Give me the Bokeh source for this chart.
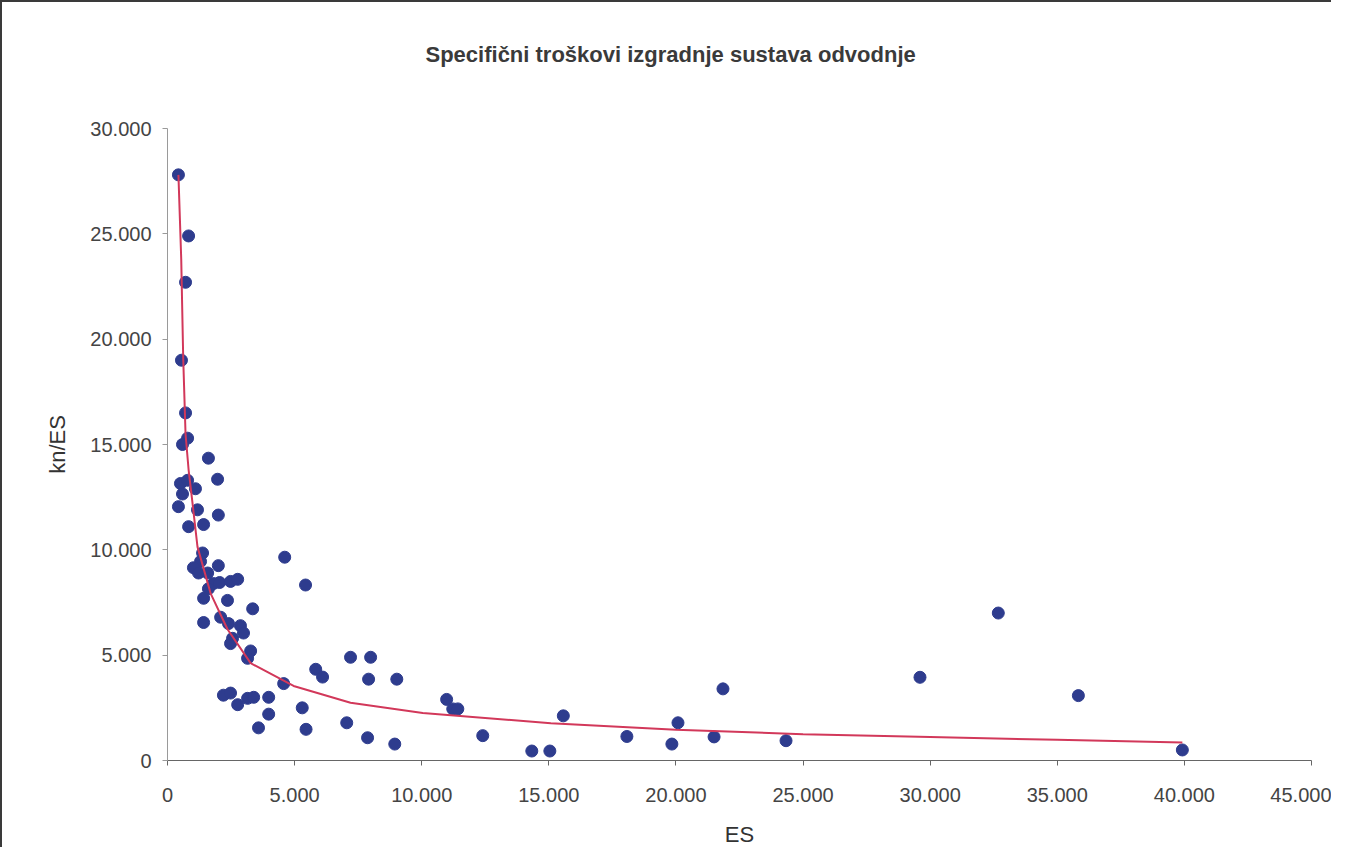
from bokeh.plotting import figure
from bokeh.models import FixedTicker, CustomJSTickFormatter, Range1d, ColumnDataSource, Title
from bokeh.embed import file_html
from bokeh.resources import INLINE

title_text = "Specifični troškovi izgradnje sustava odvodnje"
x_label = "ES"
y_label = "kn/ES"

es = [430, 830, 710, 550, 710, 790, 590, 1610, 1970, 510, 790, 1100, 590, 430, 1180,
      2000, 830, 1420, 1380, 1300, 1020, 1220, 1580, 2000, 1810, 2050, 2480, 2760, 1610,
      1420, 2360, 3350, 1420, 2090, 2400, 2870, 2990, 2560, 2480, 3270, 3150, 4570, 2200,
      2480, 2760, 3150, 3390, 3980, 3980, 3580, 5300, 5450, 4610, 5430, 5830, 6100, 7200,
      7990, 7910, 9020, 7050, 7870, 8940, 10980, 11220, 11420, 12400, 14330, 15040, 15570,
      18070, 19840, 20080, 21500, 21850, 24330, 29600, 32680, 35830, 39920]
kn_es = [27800, 24900, 22700, 19000, 16500, 15300, 15000, 14350, 13350, 13150, 13300,
         12900, 12650, 12050, 11900, 11650, 11100, 11200, 9850, 9450, 9150, 8900, 8900,
         9250, 8400, 8450, 8500, 8600, 8150, 7700, 7600, 7200, 6550, 6800, 6500, 6400,
         6050, 5800, 5550, 5200, 4850, 3650, 3100, 3200, 2650, 2950, 3000, 3000, 2200,
         1550, 2500, 1480, 9650, 8330, 4330, 3960, 4900, 4900, 3860, 3860, 1790, 1080,
         780, 2900, 2450, 2450, 1180, 450, 450, 2120, 1140, 780, 1790, 1120, 3400, 940,
         3950, 7000, 3080, 500]

# power trendline
trend_es = [430, 540, 618, 710, 830, 985, 1180, 1700, 2360, 3270, 4960, 7200, 10040,
            15080, 20000, 25000, 30000, 35000, 39920]
trend_kn_es = [27800, 23800, 19100, 15500, 13800, 12200, 10140, 7920, 6230, 4620, 3540,
               2740, 2250, 1770, 1460, 1250, 1110, 980, 860]

x_ticks = list(range(0, 45001, 5000))
y_ticks = list(range(0, 30001, 5000))

p = figure(width=1331, height=847, output_backend="svg", toolbar_location=None,
           x_range=Range1d(0, 45000), y_range=Range1d(0, 30000),
           min_border_left=165, min_border_right=22, min_border_top=126, min_border_bottom=82)
p.styles = {"border-top": "2px solid #3a3a3a", "border-left": "2px solid #3a3a3a"}
p.title.standoff = 0

# inner (blank) title keeps the real title away from the frame
p.add_layout(Title(text=" ", text_font_size="10px", standoff=49), "above")
p.add_layout(Title(text=title_text, align="left", offset=258, standoff=0,
                   text_font="Liberation Sans", text_font_size="22px",
                   text_font_style="bold", text_color="#3a3a3a"), "above")

p.xgrid.visible = False
p.ygrid.visible = False
p.outline_line_color = None
p.background_fill_color = "white"
p.border_fill_color = "white"

fmt = CustomJSTickFormatter(code="return Math.round(tick).toLocaleString('en-US').replace(/,/g, '.');")
for ax, ticks in ((p.xaxis[0], x_ticks), (p.yaxis[0], y_ticks)):
    ax.ticker = FixedTicker(ticks=ticks)
    ax.formatter = fmt
    ax.major_label_text_font = "Liberation Sans"
    ax.major_label_text_font_size = "20px"
    ax.major_label_text_color = "#444444"
    ax.minor_tick_line_color = None
    ax.major_tick_in = 0
    ax.major_tick_out = 5
    ax.axis_label_text_font = "Liberation Sans"
    ax.axis_label_text_font_size = "22px"
    ax.axis_label_text_font_style = "normal"
    ax.axis_label_text_color = "#333333"

p.xaxis.axis_label = x_label
p.yaxis.axis_label = y_label
p.xaxis.axis_line_color = "#666666"
p.xaxis.major_tick_line_color = "#666666"
p.yaxis.axis_line_color = "#9a9a9a"
p.yaxis.major_tick_line_color = "#9a9a9a"
p.xaxis.major_label_text_line_height = 1.0
p.xaxis.axis_label_text_line_height = 1.0
p.xaxis.major_label_standoff = 22
p.yaxis.major_label_standoff = 11
p.xaxis.axis_label_standoff = 17
p.yaxis.axis_label_standoff = 17

src = ColumnDataSource(dict(x=es, y=kn_es))
p.scatter("x", "y", source=src, size=12, fill_color="#2E3C8E", line_color="#2E3C8E")
p.line(trend_es, trend_kn_es, line_color="#D2385A", line_width=2)

open("out.html", "w").write(file_html(p, INLINE))
